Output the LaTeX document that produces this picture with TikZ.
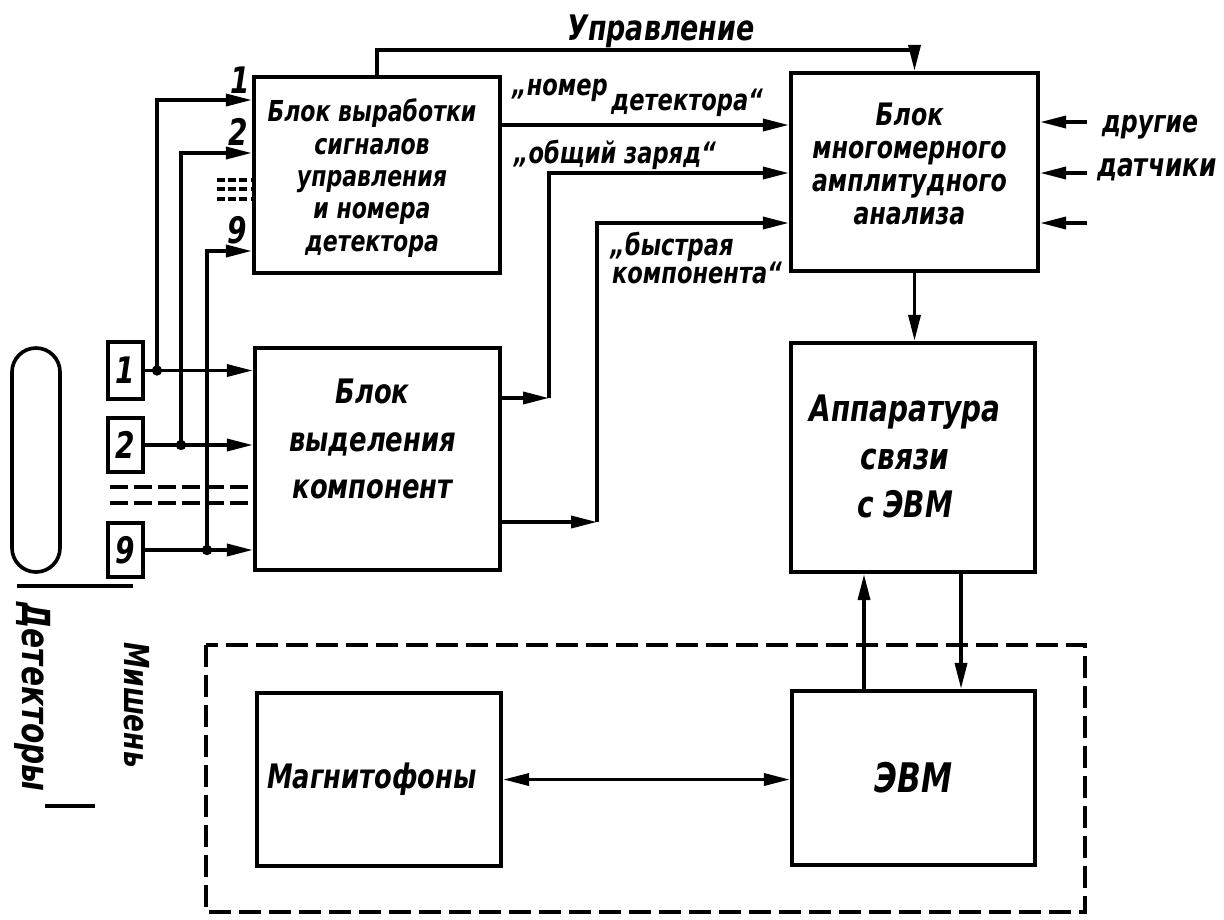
\documentclass[tikz,border=0pt]{standalone}
\usepackage{fontspec}
\setmainfont{DejaVu Sans Condensed}[FakeStretch=0.85]
\usepackage{tikz}
\usetikzlibrary{arrows.meta, positioning, calc}

\begin{document}
\begin{tikzpicture}[x=0.25mm, y=-0.25mm,
    block/.style={draw, line width=3pt, inner sep=0pt},
    sig/.style={line width=2.5pt, -{Triangle[length=6.5mm, width=3mm]}},
    both/.style={line width=2.5pt, {Triangle[length=6.5mm, width=3mm]}-{Triangle[length=6.5mm, width=3mm]}},
    wire/.style={line width=2.5pt},
    dot/.style={circle, fill, inner sep=0pt, minimum size=2.6mm},
    lbl/.style={font=\fontsize{21}{23}\selectfont\bfseries\itshape, align=center, inner sep=0pt},
    big/.style={font=\fontsize{24}{34}\selectfont\bfseries\itshape, align=center, inner sep=0pt},
    num/.style={font=\fontsize{26}{26}\selectfont\bfseries\itshape}]

    % Page
    \useasboundingbox (0,0) rectangle (1224,919);

    % Blocks
    \node[block, minimum width=61.5mm, minimum height=49mm] (gen) at (377,175) {};
    \node[block, minimum width=61.75mm, minimum height=49.5mm] (ampl) at (914.5,172) {};
    \node[block, minimum width=61.25mm, minimum height=55.5mm] (sel) at (377.5,459) {};
    \node[block, minimum width=61mm, minimum height=57.25mm] (link) at (913,457.5) {};
    \node[block, minimum width=61mm, minimum height=43.25mm] (tape) at (379,779.5) {};
    \node[block, minimum width=60.75mm, minimum height=43.5mm] (evm) at (913.5,778) {};

    % Block texts
    \node[lbl, font=\fontsize{20.5}{23}\selectfont\bfseries\itshape] (gen-t) at ($(gen)+(-5,3)$) {Блок выработки\\сигналов\\управления\\и номера\\детектора};
    \node[lbl, font=\fontsize{22}{23.5}\selectfont\bfseries\itshape] (ampl-t) at ($(ampl)+(-5,-8)$) {Блок\\многомерного\\амплитудного\\анализа};
    \node[big] (sel-t) at ($(sel)+(-5,-20)$) {Блок\\выделения\\компонент};
    \node[big, font=\fontsize{26}{34}\selectfont\bfseries\itshape] (link-t) at ($(link)+(-8,-1)$) {Аппаратура\\связи\\с ЭВМ};
    \node[big] (tape-t) at ($(tape)+(-7,0)$) {Магнитофоны};
    \node[big, font=\fontsize{29}{34}\selectfont\bfseries\itshape] (evm-t) at (evm) {ЭВМ};

    % Target and detectors
    \draw[line width=2.6pt, rounded corners=6mm] (12,348) rectangle (60,572);
    \node[block, line width=2.5pt, minimum width=8.75mm, minimum height=14.25mm, num] (d1) at (125.5,370.5) {1};
    \node[block, line width=2.5pt, minimum width=8.75mm, minimum height=13.5mm, num] (d2) at (125.5,445) {2};
    \node[block, line width=2.5pt, minimum width=8.75mm, minimum height=13.5mm, num] (d9) at (125.5,550) {9};
    \draw[wire] (17,586) -- (133,586);
    \draw[wire] (45,806) -- (95,806);
    \node[lbl, rotate=-90, font=\fontsize{27.5}{30}\selectfont\bfseries\itshape] (det-l) at (33,697) {Детекторы};
    \node[lbl, rotate=-90, font=\fontsize{24.5}{30}\selectfont\bfseries\itshape] (tgt-l) at (137,705) {Мишень};

    % Detector signals
    \draw[sig] (d1.east) -- (sel.west |- d1.east);
    \draw[sig] (d2.east) -- (sel.west |- d2.east);
    \draw[sig] (d9.east) -- (sel.west |- d9.east);
    \node[dot] (j1) at (d1.east -| 157,0) {};
    \node[dot] (j2) at (d2.east -| 181,0) {};
    \node[dot] (j9) at (d9.east -| 207,0) {};
    \draw[sig] (j1.center) |- (gen.west |- 0,100);
    \draw[sig] (j2.center) |- (gen.west |- 0,153);
    \draw[sig] (j9.center) |- (gen.west |- 0,251);
    \foreach \y in {180,189,199}
        \draw[wire, dash pattern=on 2mm off 0.8mm] (217,\y) -- (gen.west |- 0,\y);
    \foreach \y in {487,503}
        \draw[wire, dash pattern=on 4.5mm off 1.5mm] (110,\y) -- (sel.west |- 0,\y);
    \node[num] (n1) at (240,80) {1};
    \node[num] (n2) at (238,132) {2};
    \node[num] (n9) at (237,230) {9};

    % Control and detector number
    \draw[sig] (gen.north) -- (gen.north |- 0,50) -| (ampl.north);
    \node[lbl, font=\fontsize{25}{27}\selectfont\bfseries\itshape] (ctl-l) at (661,31) {Управление};
    \draw[sig] (gen.east |- 0,125) -- (ampl.west |- 0,125);
    \node[lbl] (nd-a) at (560,90) {„номер};
    \node[lbl] (nd-b) at (687,103) {детектора“};

    % Components
    \coordinate (q1) at (549,398);
    \coordinate (q2) at (597,522);
    \draw[sig] (sel.east |- q1) -- (q1);
    \draw[sig] (q1) |- (ampl.west |- 0,173);
    \draw[sig] (sel.east |- q2) -- (q2);
    \draw[sig] (q2) |- (ampl.west |- 0,223);
    \node[lbl] (q-l) at (615,155) {„общий заряд“};
    \node[lbl] (f-a) at (672,247) {„быстрая};
    \node[lbl] (f-b) at (697,273) {компонента“};

    % Other sensors
    \foreach \y [count=\i] in {122,173,223} {
        \coordinate (o\i) at (1087,\y);
        \draw[sig] (o\i) -- (ampl.east |- o\i);
    }
    \node[lbl, font=\fontsize{22}{23}\selectfont\bfseries\itshape] (oth-a) at (1150,127) {другие};
    \node[lbl, font=\fontsize{23}{23}\selectfont\bfseries\itshape] (oth-b) at (1157,170) {датчики};

    % Computer links
    \draw[sig] (ampl.south) -- (ampl.south |- link.north);
    \draw[sig] (evm.north -| 864,0) -- (link.south -| 864,0);
    \draw[sig] (link.south -| 961,0) -- (evm.north -| 961,0);
    \draw[both] (tape.east) -- (evm.west |- tape.east);

    % Computer room
    \draw[wire, dash pattern=on 5.5mm off 2mm] (206,645) rectangle (1085,912);
\end{tikzpicture}
\end{document}
